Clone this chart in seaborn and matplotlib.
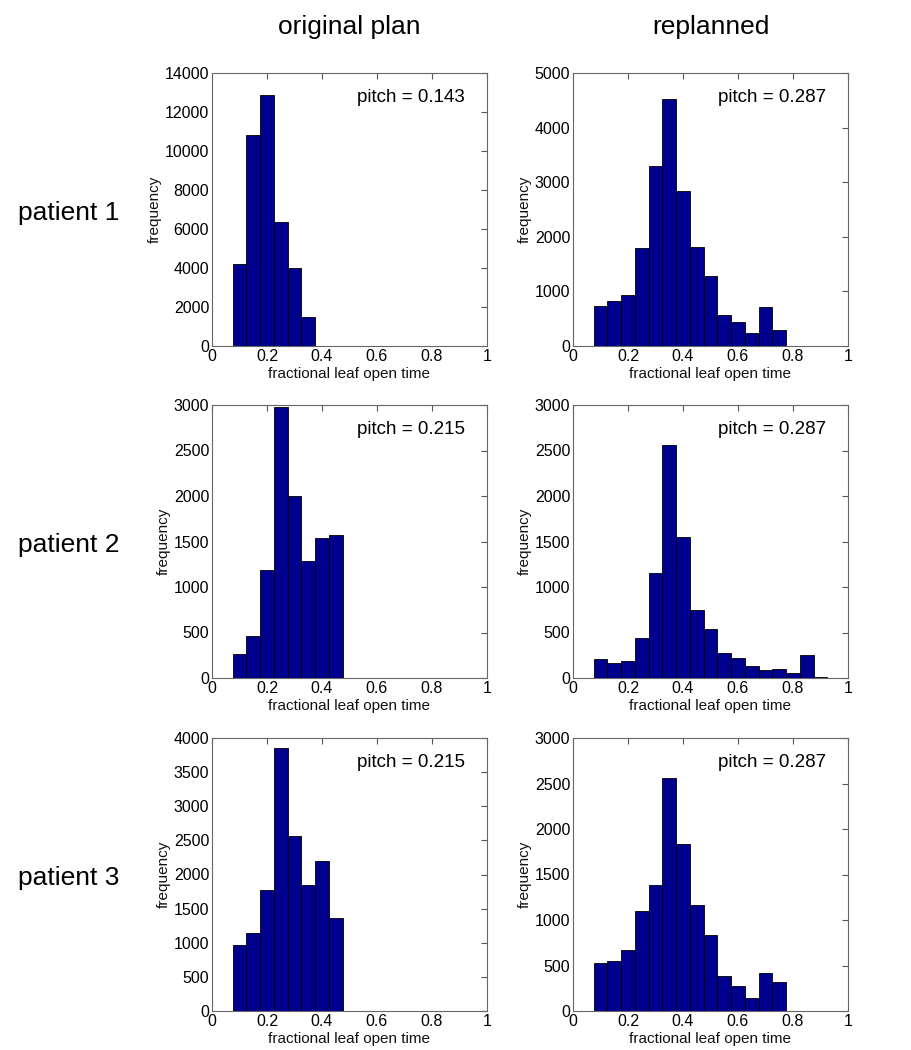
import numpy as np
import pandas as pd
import matplotlib
matplotlib.use("Agg")
import matplotlib.pyplot as plt
import seaborn as sns

sns.set_style("white")
plt.rcParams['font.family'] = ['Liberation Sans', 'DejaVu Sans']
plt.rcParams['text.color'] = 'black'
plt.rcParams['axes.labelcolor'] = 'black'
plt.rcParams['xtick.color'] = 'black'
plt.rcParams['ytick.color'] = 'black'

bin_width = 0.05
first_center = 0.1

col_titles = ["original plan", "replanned"]
row_titles = ["patient 1", "patient 2", "patient 3"]
pitches = [["0.143", "0.287"], ["0.215", "0.287"], ["0.215", "0.287"]]
ymax = [[14000, 5000], [3000, 3000], [4000, 3000]]
ystep = [[2000, 1000], [500, 500], [500, 500]]

p1_orig = [4200, 10800, 12850, 6350, 4000, 1480]
p1_repl = [740, 830, 930, 1790, 3290, 4520, 2830, 1810, 1290, 560, 440, 240, 710, 300]
p2_orig = [260, 460, 1190, 2980, 2000, 1290, 1540, 1570]
p2_repl = [210, 160, 190, 440, 1150, 2560, 1550, 750, 540, 270, 220, 130, 90, 100, 50, 250, 10]
p3_orig = [960, 1140, 1770, 3850, 2570, 1850, 2200, 1360]
p3_repl = [530, 550, 670, 1100, 1390, 2560, 1840, 1170, 830, 380, 270, 140, 420, 320]

data = [[p1_orig, p1_repl], [p2_orig, p2_repl], [p3_orig, p3_repl]]

fig = plt.figure(figsize=(9.12, 10.5), dpi=100)
W, H = 912, 1050
col_x = [212, 573]
row_top = [73, 405, 738]
aw, ah = 275, 273

bar_color = (0.0, 0.0, 0.5625)

for r in range(3):
    for c in range(2):
        counts = data[r][c]
        n = len(counts)
        centers = first_center + bin_width * np.arange(n)
        lo = first_center - bin_width / 2
        hi = lo + bin_width * n
        df = pd.DataFrame({"x": centers, "w": np.asarray(counts, dtype=float)})
        ax = fig.add_axes([col_x[c] / W, 1 - (row_top[r] + ah) / H, aw / W, ah / H])
        sns.histplot(data=df, x="x", weights="w", binwidth=bin_width, binrange=(lo, hi),
                     ax=ax, color=bar_color, alpha=1, edgecolor="black", linewidth=0.6)
        ax.set_xlim(0, 1)
        ax.set_ylim(0, ymax[r][c])
        ax.set_xticks(np.arange(0, 1.01, 0.2))
        ax.set_xticklabels(["0", "0.2", "0.4", "0.6", "0.8", "1"])
        ax.set_yticks(np.arange(0, ymax[r][c] + 1, ystep[r][c]))
        ax.tick_params(direction="in", length=4, top=True, right=True,
                       labelsize=11.5, color="#555555", labelcolor="black", pad=2)
        for s in ax.spines.values():
            s.set_color("#666666")
            s.set_linewidth(0.8)
        ax.set_xlabel("fractional leaf open time", fontsize=11, labelpad=2, color="#111111")
        ax.set_ylabel("frequency", fontsize=11, labelpad=2, color="#111111")
        ax.text(0.92, 0.91, "pitch = " + pitches[r][c], transform=ax.transAxes,
                ha="right", va="center", fontsize=13.5, color="black")

for c in range(2):
    fig.text((col_x[c] + aw / 2) / W, 1 - 27 / H, col_titles[c],
             ha="center", va="center", fontsize=19, color="black")
for r in range(3):
    fig.text(69 / W, 1 - (row_top[r] + 140) / H, row_titles[r],
             ha="center", va="center", fontsize=19, color="black")

fig.savefig("out.png", dpi=100)
